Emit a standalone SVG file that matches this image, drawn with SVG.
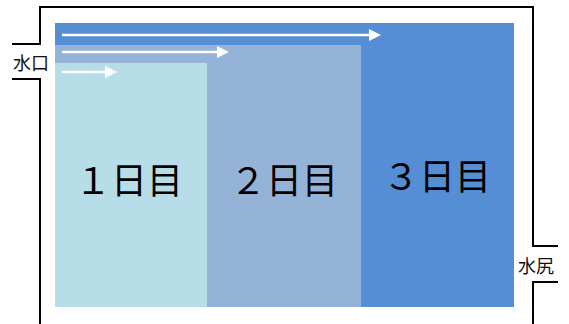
<svg xmlns="http://www.w3.org/2000/svg" width="569" height="324" viewBox="0 0 569 324">
<defs>
<style>
.wall{fill:none;stroke:#000;stroke-width:2}
.flow{stroke:#fff;stroke-width:2.5;fill:none}
.head{fill:#fff}
.day{font-family:"Noto Sans CJK JP","Noto Sans",sans-serif;font-size:36px;fill:#000;text-anchor:middle;dominant-baseline:central}
.lbl{font-family:"Noto Sans CJK JP","Noto Sans",sans-serif;font-size:18px;fill:#111;text-anchor:middle;dominant-baseline:central}
</style>
</defs>
<rect width="569" height="324" fill="#fff"/>
<g id="walls">
<path class="wall" d="M12,44 H40 V7 H533 V246 H558"/>
<path class="wall" d="M12,79 H40 V324"/>
<path class="wall" d="M558,282 H533 V324"/>
</g>
<g id="day3">
<rect x="55" y="23" width="459" height="284" fill="#558ED5"/>
<text class="day" x="437" y="174">３日目</text>
</g>
<g id="day2">
<rect x="55" y="45" width="306" height="262" fill="#95B3D7"/>
<text class="day" x="284" y="178">２日目</text>
</g>
<g id="day1">
<rect x="55" y="63" width="152" height="244" fill="#B7DEE8"/>
<text class="day" x="129" y="178">１日目</text>
</g>
<g id="inlet"><text class="lbl" x="31" y="62">水口</text></g>
<g id="outlet"><text class="lbl" x="536" y="265">水尻</text></g>
<g id="connectors">
<line class="flow" x1="62" y1="35" x2="370" y2="35"/>
<polygon class="head" points="369,29 381,35 369,41"/>
<line class="flow" x1="62" y1="52" x2="218" y2="52"/>
<polygon class="head" points="217,46 229,52 217,58"/>
<line class="flow" x1="62" y1="72" x2="106" y2="72"/>
<polygon class="head" points="105,66 117,72 105,78"/>
</g>
</svg>
